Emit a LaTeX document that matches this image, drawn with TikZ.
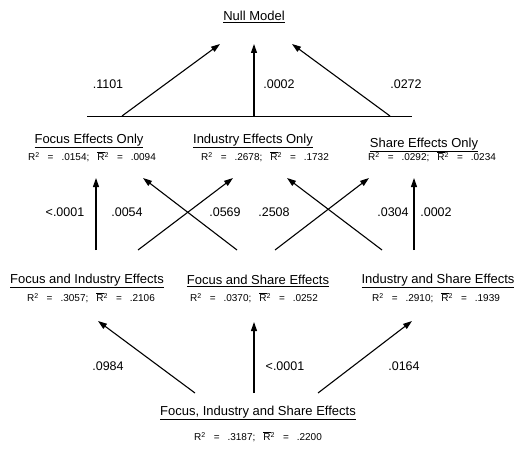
\documentclass[tikz,border=0pt]{standalone}
\usepackage{fontspec}
\setmainfont{Liberation Sans}
\usetikzlibrary{arrows.meta}
% R-bar and the fit line printed under each model name
\newcommand\rbar{\ensuremath{\overline{\mbox{R}}}}
\newcommand\fitstat[2]{R\textsuperscript{2}\hspace{8pt}=\hspace{8pt}#1;\hspace{8pt}\rbar\textsuperscript{2}\hspace{8pt}=\hspace{8pt}#2}
\begin{document}
\begin{tikzpicture}[x=1pt,y=-1pt,
  model/.style={font=\fontsize{13}{15}\selectfont, inner sep=0pt},
  fitline/.style={font=\fontsize{10}{12}\selectfont, inner sep=0pt},
  pval/.style={font=\fontsize{12.5}{14}\selectfont, inner sep=0pt},
  link/.style={line width=1.1pt, -{Triangle[length=9pt,width=6pt]}},
  bar/.style={line width=0.8pt}]
\useasboundingbox (0,0) rectangle (518,449);

% ---- model names ----
\node[model] (null) at (254,17) {\underline{Null Model}};

\node[model] (foc) at (89,141) {\underline{Focus Effects Only}};
\node[model] (ind) at (253,141) {\underline{Industry Effects Only}};
\node[model] (sha) at (424,145) {\underline{Share Effects Only}};
\node[fitline] (focr) at (92,157) {\fitstat{.0154}{.0094}};
\node[fitline] (indr) at (265,157) {\fitstat{.2678}{.1732}};
\node[fitline] (shar) at (432,157) {\fitstat{.0292}{.0234}};

\node[model] (fi) at (87,281) {\underline{Focus and Industry Effects}};
\node[model] (fs) at (258,281) {\underline{Focus and Share Effects}};
\node[model] (is) at (438,281) {\underline{Industry and Share Effects}};
\node[fitline] (fir) at (91,298) {\fitstat{.3057}{.2106}};
\node[fitline] (fsr) at (254,298) {\fitstat{.0370}{.0252}};
\node[fitline] (isr) at (436,298) {\fitstat{.2910}{.1939}};

\node[model] (fis) at (258,413) {\underline{Focus, Industry and Share Effects}};
\node[fitline] (fisr) at (258,437) {\fitstat{.3187}{.2200}};

% ---- arrow end points ----
\coordinate (b0) at (87,116);
\coordinate (b1) at (412,116);
\coordinate (t1s) at (122,116);  \coordinate (t1e) at (220,44);
\coordinate (t2s) at (254,116);  \coordinate (t2e) at (254,44);
\coordinate (t3s) at (390,116);  \coordinate (t3e) at (292,44);

\coordinate (m1s) at (96,250);   \coordinate (m1e) at (96,178);
\coordinate (m2s) at (138,250);  \coordinate (m2e) at (233,178);
\coordinate (m3s) at (237,250);  \coordinate (m3e) at (143,178);
\coordinate (m4s) at (275,250);  \coordinate (m4e) at (369,178);
\coordinate (m5s) at (382,250);  \coordinate (m5e) at (287,178);
\coordinate (m6s) at (414,250);  \coordinate (m6e) at (414,178);

\coordinate (l1s) at (195,393);  \coordinate (l1e) at (98,321);
\coordinate (l2s) at (254,393);  \coordinate (l2e) at (254,322);
\coordinate (l3s) at (318,393);  \coordinate (l3e) at (412,321);

% ---- connectors ----
\draw[bar] (b0) -- (b1);
\draw[link] (t1s) -- (t1e);
\draw[link] (t2s) -- (t2e);
\draw[link] (t3s) -- (t3e);

\draw[link] (m1s) -- (m1e);
\draw[link] (m2s) -- (m2e);
\draw[link] (m3s) -- (m3e);
\draw[link] (m4s) -- (m4e);
\draw[link] (m5s) -- (m5e);
\draw[link] (m6s) -- (m6e);

\draw[link] (l1s) -- (l1e);
\draw[link] (l2s) -- (l2e);
\draw[link] (l3s) -- (l3e);

% ---- p-values ----
\node[pval] (p1) at (108,84) {.1101};
\node[pval] (p2) at (279,84) {.0002};
\node[pval] (p3) at (406,84) {.0272};

\node[pval] (p4) at (65,212) {<.0001};
\node[pval] (p5) at (127,212) {.0054};
\node[pval] (p6) at (225,212) {.0569};
\node[pval] (p7) at (274,212) {.2508};
\node[pval] (p8) at (393,212) {.0304};
\node[pval] (p9) at (436,212) {.0002};

\node[pval] (p10) at (108,366) {.0984};
\node[pval] (p11) at (285,366) {<.0001};
\node[pval] (p12) at (404,366) {.0164};
\end{tikzpicture}
\end{document}
